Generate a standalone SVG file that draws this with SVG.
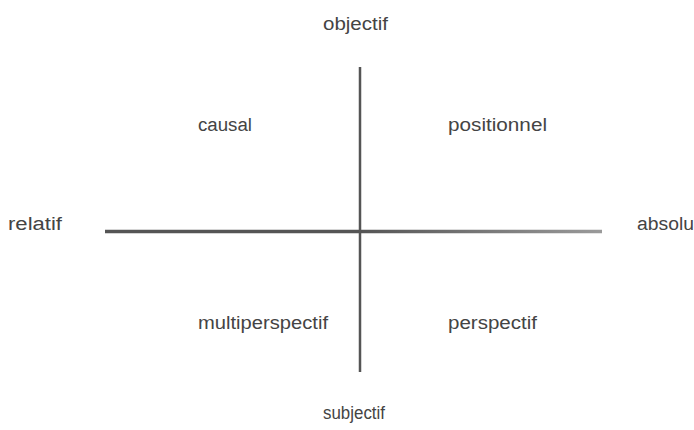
<svg xmlns="http://www.w3.org/2000/svg" width="694" height="430" viewBox="0 0 694 430">
<defs>
<linearGradient id="fade" x1="360" y1="0" x2="602" y2="0" gradientUnits="userSpaceOnUse">
<stop offset="0" stop-color="#555"/>
<stop offset="1" stop-color="#9a9a9a"/>
</linearGradient>
</defs>
<style>
text{font-family:"Liberation Sans",Arial,sans-serif;font-size:18px;fill:#444;}
.ax{stroke-linecap:butt;fill:none;}
</style>
<rect width="694" height="430" fill="#fff"/>
<g id="connectors">
<line class="ax" x1="105" y1="231.5" x2="360" y2="231.5" stroke="#555" stroke-width="3.5"/>
<line class="ax" x1="360" y1="231.5" x2="602" y2="231.5" stroke="url(#fade)" stroke-width="3.5"/>
<line class="ax" x1="360" y1="67" x2="360" y2="372" stroke="#555" stroke-width="2.5"/>
</g>
<g id="objectif"><text x="323" y="30" textLength="65" lengthAdjust="spacingAndGlyphs">objectif</text></g>
<g id="subjectif"><text x="323" y="419" textLength="62" lengthAdjust="spacingAndGlyphs">subjectif</text></g>
<g id="relatif"><text x="8" y="230" textLength="54" lengthAdjust="spacingAndGlyphs">relatif</text></g>
<g id="absolu"><text x="637" y="230" textLength="57" lengthAdjust="spacingAndGlyphs">absolu</text></g>
<g id="causal"><text x="198" y="131" textLength="54" lengthAdjust="spacingAndGlyphs">causal</text></g>
<g id="positionnel"><text x="448" y="131" textLength="99" lengthAdjust="spacingAndGlyphs">positionnel</text></g>
<g id="multiperspectif"><text x="198" y="329" textLength="130" lengthAdjust="spacingAndGlyphs">multiperspectif</text></g>
<g id="perspectif"><text x="448" y="329" textLength="89" lengthAdjust="spacingAndGlyphs">perspectif</text></g>
</svg>
